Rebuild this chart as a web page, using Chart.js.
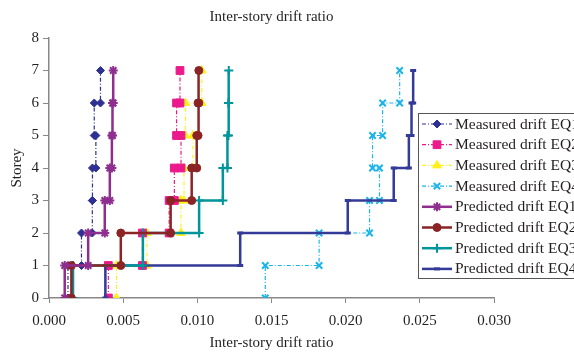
<!DOCTYPE html>
<html>
<head>
<meta charset="utf-8">
<script src="https://cdn.jsdelivr.net/npm/chart.js@4.4.1/dist/chart.umd.min.js"></script>
<style>
    html, body { margin: 0; padding: 0; background: #fff; }
    #wrap { width: 574px; height: 352px; }
</style>
</head>
<body>
<div id="wrap"><canvas id="driftChart" width="574" height="352"></canvas></div>
<script>
// storey levels and the drift of each storey (0-1, 1-2, ... 6-7)
const storeys = [0, 1, 2, 3, 4, 5, 6, 7];
const measuredEQ1 = [0.00128, 0.00219, 0.00292, 0.00293, 0.00316, 0.00305, 0.00347];
const measuredEQ2 = [0.0040, 0.0063, 0.0081, 0.00845, 0.0089, 0.0086, 0.00883];
const measuredEQ3 = [0.00455, 0.0066, 0.0089, 0.0091, 0.0097, 0.0092, 0.0103];
const measuredEQ4 = [0.01458, 0.01821, 0.02161, 0.02228, 0.02181, 0.02249, 0.02364];
const predictedEQ1 = [0.00106, 0.00264, 0.00376, 0.0041, 0.00424, 0.00428, 0.00433];
const predictedEQ2 = [0.00151, 0.00484, 0.0082, 0.00962, 0.00996, 0.01005, 0.0101];
const predictedEQ3 = [0.00162, 0.00633, 0.01012, 0.01172, 0.01203, 0.0121, 0.01212];
const predictedEQ4 = [0.0038, 0.01289, 0.02014, 0.02324, 0.02426, 0.02444, 0.02455];
const xTickLabels = ["0.000", "0.005", "0.010", "0.015", "0.020", "0.025", "0.030"];
const yTickLabels = ["0", "1", "2", "3", "4", "5", "6", "7", "8"];

const serif = "'Liberation Serif', 'Times New Roman', serif";
const dashDot = [4, 2, 1, 2];

// each storey drift is drawn as a vertical step between floor levels
function stepPoints(drifts) {
    const pts = [];
    drifts.forEach(function (d, i) {
        pts.push({ x: d, y: storeys[i] });
        pts.push({ x: d, y: storeys[i + 1] });
    });
    return pts;
}

function measured(label, values, color, style, radius) {
    return {
        label: label,
        data: stepPoints(values),
        showLine: true,
        borderColor: color,
        borderWidth: 1.2,
        borderDash: dashDot,
        pointStyle: style,
        pointRadius: radius,
        pointBackgroundColor: color,
        pointBorderColor: color,
        pointBorderWidth: 1,
        order: 2,
    };
}

function predicted(label, values, color, style, radius, pbw) {
    return {
        label: label,
        data: stepPoints(values),
        showLine: true,
        borderColor: color,
        borderWidth: 2.5,
        pointStyle: style,
        pointRadius: radius,
        pointBackgroundColor: color,
        pointBorderColor: color,
        pointBorderWidth: pbw,
        order: 1,
    };
}

// legend sits inside the plot, cut off by the right edge like the original
const legendBox = {
    id: "legendBox",
    afterDraw(chart) {
        const ctx = chart.ctx;
        ctx.save();
        ctx.fillStyle = "#fff";
        ctx.fillRect(418.5, 113.5, 170, 165);
        ctx.strokeStyle = "#555";
        ctx.lineWidth = 1;
        ctx.strokeRect(418.5, 113.5, 170, 165);
        chart.data.datasets.forEach(function (ds, i) {
            const y = 124 + i * 20.7;
            ctx.strokeStyle = ds.borderColor;
            ctx.lineWidth = ds.borderWidth;
            ctx.setLineDash(ds.borderDash || []);
            ctx.beginPath();
            ctx.moveTo(422, y);
            ctx.lineTo(452, y);
            ctx.stroke();
            ctx.setLineDash([]);
            ctx.fillStyle = ds.pointBackgroundColor;
            ctx.strokeStyle = ds.pointBorderColor;
            ctx.lineWidth = ds.pointBorderWidth;
            Chart.helpers.drawPoint(ctx, {
                pointStyle: ds.pointStyle,
                radius: ds.pointRadius,
                rotation: 0,
                borderWidth: ds.pointBorderWidth,
            }, 437, y);
            ctx.fillStyle = "#231f20";
            ctx.font = "15.5px " + serif;
            ctx.textBaseline = "middle";
            ctx.textAlign = "left";
            ctx.fillText(ds.label, 455, y + 0.5);
        });
        ctx.restore();
    },
};

const ctx = document.getElementById("driftChart");
new Chart(ctx, {
    type: "scatter",
    data: {
        datasets: [
            measured("Measured drift EQ1", measuredEQ1, "#2e3192", "rectRot", 4),
            measured("Measured drift EQ2", measuredEQ2, "#ec198c", "rect", 5.5),
            measured("Measured drift EQ3", measuredEQ3, "#fff01e", "triangle", 5),
            {
                ...measured("Measured drift EQ4", measuredEQ4, "#1cb4e8", "crossRot", 4.5),
                pointBorderWidth: 2,
            },
            predicted("Predicted drift EQ1", predictedEQ1, "#8e2e8e", "star", 4.5, 2),
            predicted("Predicted drift EQ2", predictedEQ2, "#8b2525", "circle", 4, 1),
            predicted("Predicted drift EQ3", predictedEQ3, "#00959b", "cross", 4.5, 2),
            predicted("Predicted drift EQ4", predictedEQ4, "#333a98", "line", 3, 3),
        ],
    },
    options: {
        responsive: false,
        animation: false,
        devicePixelRatio: 1,
        layout: { padding: { left: 0, right: 80, top: 0, bottom: 0 } },
        plugins: {
            legend: { display: false },
            tooltip: { enabled: false },
            title: {
                display: true,
                text: "Inter-story drift ratio",
                color: "#231f20",
                fullSize: false,
                font: { family: serif, size: 15, weight: "normal" },
                padding: { top: 8, bottom: 12 },
            },
        },
        scales: {
            x: {
                type: "linear",
                min: 0,
                max: 0.03,
                afterFit(scale) { scale.height = 54; },
                ticks: {
                    stepSize: 0.005,
                    padding: 9,
                    color: "#231f20",
                    font: { family: serif, size: 15 },
                    callback: function (value) { return xTickLabels[Math.round(value / 0.005)]; },
                },
                grid: { drawOnChartArea: false, tickLength: 5, color: "#888", tickColor: "#888" },
                border: { color: "#888", width: 1.5 },
                title: {
                    display: true,
                    text: "Inter-story drift ratio",
                    color: "#231f20",
                    font: { family: serif, size: 15 },
                    padding: { top: 0, bottom: 0 },
                },
            },
            y: {
                min: 0,
                max: 8,
                afterFit(scale) { scale.width = 49; },
                ticks: {
                    stepSize: 1,
                    padding: 4,
                    color: "#231f20",
                    font: { family: serif, size: 15 },
                    callback: function (value) { return yTickLabels[value]; },
                },
                grid: { drawOnChartArea: false, tickLength: 6, color: "#888", tickColor: "#888" },
                border: { color: "#888", width: 1.5 },
                title: {
                    display: true,
                    text: "Storey",
                    color: "#231f20",
                    font: { family: serif, size: 15 },
                    padding: { top: 8, bottom: 0 },
                },
            },
        },
    },
    plugins: [legendBox],
});
</script>
</body>
</html>
